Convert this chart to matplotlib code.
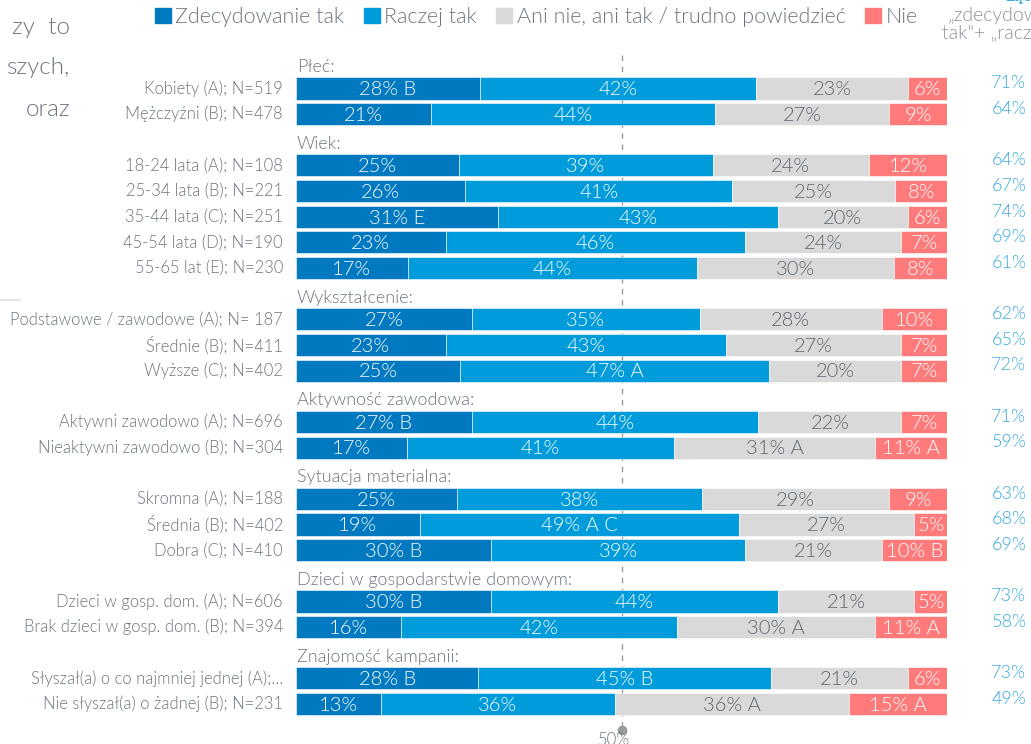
import matplotlib
matplotlib.use("Agg")
import matplotlib.pyplot as plt
from matplotlib.patches import Rectangle
from matplotlib.lines import Line2D
import numpy as np

plt.rcParams['font.family'] = ['Lato', 'DejaVu Sans']
LW = 300  # waga fontu (Lato Light)

# dane
groups = ["Płeć:", "Wiek:", "Wykształcenie:", "Aktywność zawodowa:",
          "Sytuacja materialna:", "Dzieci w gospodarstwie domowym:", "Znajomość kampanii:"]
group_sizes = [2, 5, 3, 2, 3, 2, 2]

categories = [
    "Kobiety (A); N=519", "Mężczyźni (B); N=478",
    "18-24 lata (A); N=108", "25-34 lata (B); N=221", "35-44 lata (C); N=251",
    "45-54 lata (D); N=190", "55-65 lat (E); N=230",
    "Podstawowe / zawodowe (A); N= 187", "Średnie (B); N=411", "Wyższe (C); N=402",
    "Aktywni zawodowo (A); N=696", "Nieaktywni zawodowo (B); N=304",
    "Skromna (A); N=188", "Średnia (B); N=402", "Dobra (C); N=410",
    "Dzieci w gosp. dom. (A); N=606", "Brak dzieci w gosp. dom. (B); N=394",
    "Słyszał(a) o co najmniej jednej (A);…", "Nie słyszał(a) o żadnej (B); N=231",
]

series_names = ["Zdecydowanie tak", "Raczej tak", "Ani nie, ani tak / trudno powiedzieć", "Nie"]
zdecydowanie = [28, 21, 25, 26, 31, 23, 17, 27, 23, 25, 27, 17, 25, 19, 30, 30, 16, 28, 13]
raczej = [42, 44, 39, 41, 43, 46, 44, 35, 43, 47, 44, 41, 38, 49, 39, 44, 42, 45, 36]
ani = [23, 27, 24, 25, 20, 24, 30, 28, 27, 20, 22, 31, 29, 27, 21, 21, 30, 21, 36]
nie = [6, 9, 12, 8, 6, 7, 8, 10, 7, 7, 7, 11, 9, 5, 10, 5, 11, 6, 15]

# dopiski istotnosci
zdec_sig = ["B", "", "", "", "E", "", "", "", "", "", "B", "", "", "", "B", "B", "", "B", ""]
racz_sig = ["", "", "", "", "", "", "", "", "", "A", "", "", "", "A C", "", "", "", "B", ""]
ani_sig = ["", "", "", "", "", "", "", "", "", "", "", "A", "", "", "", "", "A", "", "A"]
nie_sig = ["", "", "", "", "", "", "", "", "", "", "", "A", "", "", "B", "", "A", "", "A"]

totals = ["71%", "64%", "64%", "67%", "74%", "69%", "61%", "62%", "65%", "72%",
          "71%", "59%", "63%", "68%", "69%", "73%", "58%", "73%", "49%"]

colors = ["#0079c1", "#009bdb", "#d9d9d9", "#ff7b7b"]
txt_colors = ["white", "white", "#5b6670", "white"]
grey = "#6b7580"
total_color = "#3aaae1"

# pozycje wierszy: naglowek grupy + wiersze
header_pos = []
row_pos = []
slot = 0
for n in group_sizes:
    header_pos.append(slot)
    slot += 1
    for _ in range(n):
        row_pos.append(slot)
        slot += 1
row_pos = np.array(row_pos)

W, H = 1031, 744
fig = plt.figure(figsize=(W / 100, H / 100), dpi=100)
fig.patch.set_facecolor("white")

x0, x1 = 296, 947
top_px = 50
step = 25.65
ax = fig.add_axes([x0 / W, 0, (x1 - x0) / W, 1 - top_px / H])
bottom_slot = (H - top_px) / step - 0.5
ax.set_xlim(0, 100)
ax.set_ylim(bottom_slot, -0.5)
ax.axis("off")

data = np.array([zdecydowanie, raczej, ani, nie], dtype=float)
pct = data / data.sum(axis=0) * 100
sigs = [zdec_sig, racz_sig, ani_sig, nie_sig]

left = np.zeros(len(categories))
for i in range(4):
    ax.barh(row_pos, pct[i], left=left, height=0.86, color=colors[i],
            edgecolor="white", linewidth=0.4, zorder=3)
    for j in range(len(categories)):
        lab = f"{int(data[i, j])}%" + (f" {sigs[i][j]}" if sigs[i][j] else "")
        ax.text(left[j] + pct[i, j] / 2, row_pos[j] + 0.05, lab, ha="center", va="center",
                color=txt_colors[i], fontsize=14.5, fontweight=LW, zorder=4)
    left += pct[i]

for j, cat in enumerate(categories):
    ax.text(-2, row_pos[j], cat, ha="right", va="center", color=grey,
            fontsize=11.9, fontweight=LW, clip_on=False)
    ax.text(109.5, row_pos[j] - 0.2, totals[j], ha="center", va="center",
            color=total_color, fontsize=13, fontweight=LW, clip_on=False)

for g, p in zip(groups, header_pos):
    ax.text(0.1, p + 0.15, g, ha="left", va="center", color=grey,
            fontsize=13, fontweight=LW)

# linia 50%
ax.plot([50, 50], [-0.3, 26.0], color="#9a9a9a", lw=1, ls=(0, (4, 4)), zorder=1, clip_on=False)
ax.plot([50], [26.0], marker="o", ms=6, color="#9a9a9a", zorder=2, clip_on=False)
ax.text(48.8, 26.4, "50%", ha="center", va="center", color=grey, fontsize=12,
        fontweight=LW, clip_on=False)

# legenda
handles = [Rectangle((0, 0), 1, 1, color=c) for c in colors]
fig.legend(handles, series_names, loc="center", bbox_to_anchor=(536 / W, 1 - 17 / H),
           ncol=4, frameon=False, handlelength=0.75, handleheight=0.75,
           handletextpad=0.2, columnspacing=0.9, labelcolor=grey,
           prop={"family": ["Lato", "DejaVu Sans"], "weight": LW, "size": 15.5})

# fragmenty tekstu poza kadrem
for txt, y in [("zy  to", 27), ("szych,", 68), ("oraz", 109)]:
    fig.text(70 / W, 1 - y / H, txt, ha="right", va="center", color=grey,
             fontsize=17.5, fontweight=LW)
fig.add_artist(Line2D([0, 20 / W], [1 - 300 / H, 1 - 300 / H], color="#e6e6e6", lw=1.5))

fig.text(1005 / W, 1 + 4 / H, "Łącznie", ha="left", va="center", color=total_color,
         fontsize=13, fontweight="bold")
fig.text(948 / W, 1 - 15 / H, "„zdecydowanie", ha="left", va="center", color="#8a9199",
         fontsize=14, fontweight=LW)
fig.text(942 / W, 1 - 33 / H, "tak\"+ „raczej tak\"", ha="left", va="center", color="#8a9199",
         fontsize=14, fontweight=LW)

fig.savefig("out.png", dpi=100, facecolor="white")
